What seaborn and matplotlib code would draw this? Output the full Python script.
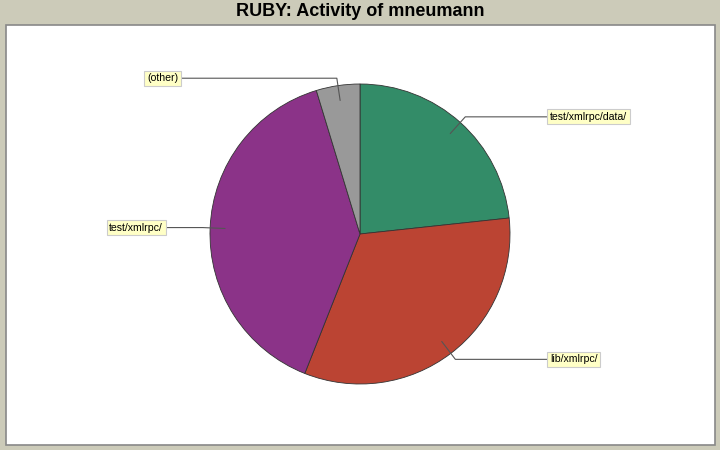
import matplotlib
matplotlib.use("Agg")
import matplotlib.pyplot as plt
import seaborn as sns
import numpy as np
from matplotlib.patches import Rectangle

# ---- data ----
categories = ["test/xmlrpc/data/", "lib/xmlrpc/", "test/xmlrpc/", "(other)"]
values = [23.3, 32.7, 39.3, 4.7]
colors = ["#338c68", "#bb4433", "#8b3388", "#999999"]
title = "RUBY: Activity of mneumann"

sns.set_style("white")
plt.rcParams['font.family'] = ['Liberation Sans', 'DejaVu Sans']

W, H = 720, 450
fig = plt.figure(figsize=(7.2, 4.5), dpi=100)
fig.patch.set_facecolor("#cccbb9")
ax = fig.add_axes([0, 0, 1, 1])
ax.set_facecolor("none")

cx, cy, R = 360, H - 234, 150
wedges, _ = ax.pie(values, colors=colors, startangle=90, counterclock=False,
                   center=(cx, cy), radius=R, frame=True,
                   wedgeprops=dict(edgecolor="#333333", linewidth=0.6))
ax.set_xlim(0, W)
ax.set_ylim(0, H)
ax.set_aspect("equal")
ax.axis("off")

# white plotting panel with gray border
ax.add_patch(Rectangle((5.5, H - 444.5), 709, 420, facecolor="white",
                       edgecolor="#888888", linewidth=1.2, zorder=0))

fig.text(0.5, 1 - 12 / H, title, ha="center", va="center",
         fontsize=13, fontweight="bold", color="black")

for w, lab in zip(wedges, categories):
    mid = np.deg2rad((w.theta1 + w.theta2) / 2)
    ax_, ay_ = cx + 0.9 * R * np.cos(mid), cy + 0.9 * R * np.sin(mid)
    ex, ey = cx + 1.05 * R * np.cos(mid), cy + 1.05 * R * np.sin(mid)
    right = np.cos(mid) >= 0
    if right:
        lx = 547
        ha = "left"
    else:
        lx = 181 if np.sin(mid) > 0.5 else 166
        ha = "right"
    ax.plot([ax_, ex, lx], [ay_, ey, ey], color="#555555", lw=0.8, zorder=3)
    ax.text(lx + (3 if right else -3), ey, lab, ha=ha, va="center",
            fontsize=7.6, color="black", zorder=4,
            bbox=dict(boxstyle="square,pad=0.25", facecolor="#ffffc6",
                      edgecolor="#cccccc", linewidth=0.8))

fig.savefig("out.png", dpi=100, facecolor=fig.get_facecolor())
